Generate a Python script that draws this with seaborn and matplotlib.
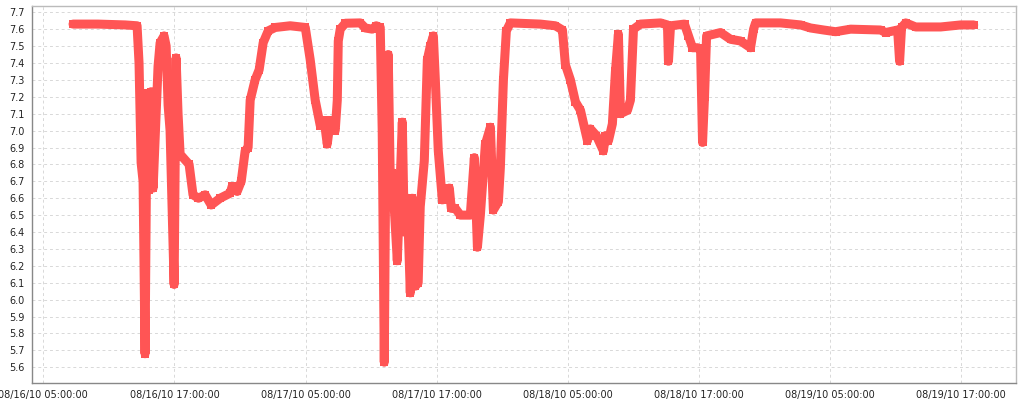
import pandas as pd
import matplotlib
matplotlib.use("Agg")
import matplotlib.pyplot as plt
import matplotlib.dates as mdates
import seaborn as sns
import numpy as np

# hours after 08/16/10 05:00:00
hours = [2.72, 5.0, 7.5, 8.58, 8.76, 8.95, 9.13, 9.31, 9.50, 9.68, 9.86, 10.05,
         10.50, 10.69, 11.05, 11.24, 11.42, 11.60, 11.97, 12.15, 12.33, 12.52,
         13.34, 13.70, 14.20, 14.81, 15.36, 16.18, 17.10, 17.28, 17.74, 18.11,
         18.47, 18.74, 18.93, 19.38, 19.75, 20.12, 20.58, 21.22, 22.59, 23.97,
         24.42, 24.88, 25.34, 25.70, 25.98, 26.26, 26.71, 26.90, 26.99, 27.17,
         27.63, 29.00, 29.46, 30.10, 30.46, 30.83, 31.01, 31.20, 31.38, 31.56,
         31.75, 31.93, 32.21, 32.39, 32.57, 32.85, 33.03, 33.30, 33.58, 33.76,
         34.04, 34.30, 34.49, 34.86, 35.14, 35.41, 35.69, 35.87, 36.14, 36.51,
         36.97, 37.15, 37.33, 37.70, 38.16, 39.07, 39.44, 39.72, 39.99, 40.45,
         40.91, 41.18, 41.64, 41.82, 42.10, 42.37, 42.73, 45.48, 46.86, 47.50,
         47.77, 48.23, 48.69, 49.15, 49.79, 50.06, 50.61, 51.25, 51.43, 51.71,
         52.07, 52.35, 52.62, 52.81, 53.45, 53.72, 54.00, 54.64, 56.47, 57.11,
         57.20, 57.39, 58.67, 59.03, 59.40, 59.86, 60.14, 60.32, 60.50, 60.69,
         61.97, 62.88, 63.80, 64.71, 64.99, 65.17, 67.45, 69.29, 70.20, 71.40,
         72.49, 73.87, 76.61, 77.07, 78.17, 78.35, 78.53, 78.91, 79.82, 82.11,
         83.94, 85.13]

values = [7.63, 7.63, 7.625, 7.62, 7.40, 6.81, 6.70, 5.68, 7.22, 6.65, 7.23, 6.66,
          7.38, 7.52, 7.56, 7.50, 7.15, 7.00, 6.09, 7.43, 7.10, 6.86,
          6.80, 6.62, 6.60, 6.62, 6.56, 6.60, 6.63, 6.67, 6.64, 6.70,
          6.88, 6.90, 7.18, 7.30, 7.36, 7.52, 7.59, 7.61, 7.62, 7.61,
          7.42, 7.18, 7.03, 7.06, 6.92, 7.06, 7.00, 7.18, 7.53, 7.60,
          7.635, 7.637, 7.607, 7.60, 7.62, 7.61, 7.00, 5.63, 7.20, 7.45,
          6.70, 6.75, 6.44, 6.23, 6.55, 7.05, 6.40, 6.60, 6.04, 6.60,
          6.08, 6.10, 6.55, 6.82, 7.42, 7.50, 7.56, 7.30, 6.88, 6.59,
          6.60, 6.66, 6.54, 6.54, 6.50, 6.50, 6.84, 6.31, 6.50, 6.92,
          7.02, 6.53, 6.58, 6.78, 7.30, 7.59, 7.637, 7.63, 7.62, 7.595,
          7.39, 7.30, 7.17, 7.12, 6.94, 7.01, 6.97, 6.88, 6.97, 6.94,
          7.04, 7.35, 7.57, 7.10, 7.12, 7.18, 7.60, 7.63, 7.637, 7.625,
          7.41, 7.62, 7.63, 7.56, 7.49, 7.49, 7.48, 6.93, 7.20, 7.56,
          7.58, 7.54, 7.53, 7.49, 7.60, 7.637, 7.637, 7.625, 7.607, 7.595,
          7.585, 7.60, 7.595, 7.58, 7.595, 7.41, 7.61, 7.637, 7.613, 7.613,
          7.625, 7.625]

start = pd.Timestamp("2010-08-16 05:00:00")
yticks = np.round(np.arange(5.6, 7.75, 0.1), 1)

df = pd.DataFrame({
    "time": start + pd.to_timedelta(hours, unit="h"),
    "value": values,
})

sns.set_style("white")
plt.rcParams['font.family'] = ['DejaVu Sans']

fig = plt.figure(figsize=(10.24, 4.0), dpi=100)
ax = fig.add_axes([32 / 1024, 1 - 383 / 400, (1016 - 32) / 1024, (383 - 6) / 400])

sns.lineplot(data=df, x="time", y="value", ax=ax, color="#FF5555",
             linewidth=6.5, marker="s", markersize=6, markeredgewidth=0,
             sort=False, estimator=None)
for line in ax.get_lines():
    line.set_solid_joinstyle("round")

ax.set_xlim(pd.Timestamp("2010-08-16 03:58:00"), pd.Timestamp("2010-08-19 22:00:00"))
ax.set_ylim(5.507, 7.737)
ax.set_yticks(yticks)
ax.set_yticklabels([f"{v:.1f}" for v in yticks])
ax.xaxis.set_major_locator(mdates.HourLocator(byhour=[5, 17]))
ax.xaxis.set_major_formatter(mdates.DateFormatter("%m/%d/%y %H:%M:%S"))

ax.grid(True, color="#D8D8D8", linestyle=(0, (3, 3)), linewidth=0.7)
ax.set_axisbelow(True)
ax.set_xlabel("")
ax.set_ylabel("")
ax.tick_params(axis="both", labelsize=7, colors="#222222", length=3,
               width=0.7, direction="out", pad=2)
ax.tick_params(axis="both", color="#888888")
for side in ["left", "bottom"]:
    ax.spines[side].set_color("#888888")
    ax.spines[side].set_linewidth(1)
for side in ["top", "right"]:
    ax.spines[side].set_color("#BBBBBB")
    ax.spines[side].set_linewidth(1)

fig.savefig("out.png", dpi=100)
